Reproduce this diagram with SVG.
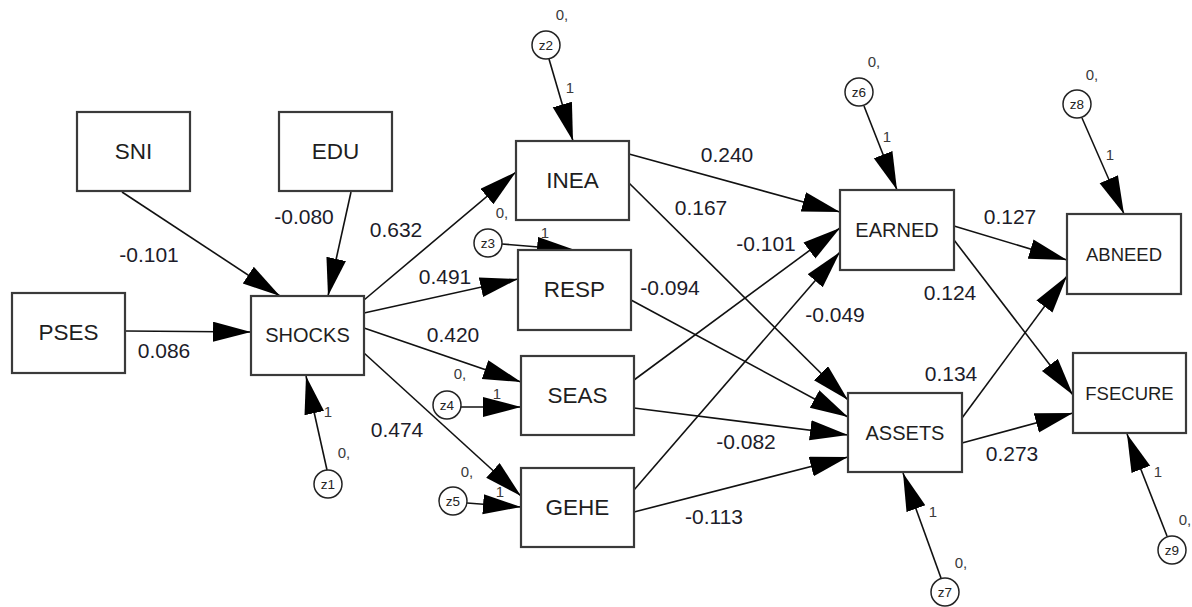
<svg xmlns="http://www.w3.org/2000/svg" width="1192" height="607" viewBox="0 0 1192 607">
<defs>
<marker id="ah" markerUnits="userSpaceOnUse" markerWidth="40" markerHeight="22" refX="38" refY="10" orient="auto" viewBox="0 0 40 22">
<path d="M0,0 L38,10 L0,20 Z" fill="#000"/>
</marker>
<style>
.box{fill:#fff;stroke:#3a3a3a;stroke-width:2.2}
.err{fill:#fff;stroke:#222;stroke-width:1.5}
.lbl{font-family:"Liberation Sans",Arial,sans-serif;fill:#1e1e1e;text-anchor:middle}
.big{font-size:22.5px}
.mid{font-size:20px}
.sm{font-size:18.5px}
.coef{font-family:"Liberation Sans",Arial,sans-serif;font-size:21px;fill:#1c1c2a;text-anchor:middle}
.tiny{font-family:"Liberation Sans",Arial,sans-serif;font-size:15px;fill:#3a3a3a;text-anchor:middle}
.zt{font-family:"Liberation Sans",Arial,sans-serif;font-size:13.5px;fill:#222;text-anchor:middle}
.con line{stroke:#111;stroke-width:1.6;marker-end:url(#ah)}
</style>
</defs>
<rect width="1192" height="607" fill="#fff"/>

<g id="connectors" class="con">
<line x1="122" y1="192" x2="280" y2="296"/>
<line x1="351" y1="192" x2="328" y2="296"/>
<line x1="126" y1="331" x2="251" y2="332"/>
<line x1="327" y1="470" x2="306" y2="376"/>
<line x1="364" y1="300" x2="516" y2="172"/>
<line x1="364" y1="313" x2="518" y2="279"/>
<line x1="364" y1="328" x2="521" y2="382"/>
<line x1="364" y1="353" x2="521" y2="496"/>
<line x1="549" y1="59" x2="573" y2="141"/>
<line x1="502" y1="244" x2="575" y2="250"/>
<line x1="461" y1="407" x2="521" y2="407"/>
<line x1="467" y1="503" x2="521" y2="507"/>
<line x1="629" y1="154" x2="840" y2="212"/>
<line x1="629" y1="183" x2="848" y2="400"/>
<line x1="631" y1="300" x2="848" y2="417"/>
<line x1="634" y1="380" x2="840" y2="228"/>
<line x1="634" y1="408" x2="848" y2="435"/>
<line x1="634" y1="490" x2="840" y2="252"/>
<line x1="634" y1="512" x2="848" y2="457"/>
<line x1="954" y1="226" x2="1067" y2="260"/>
<line x1="954" y1="240" x2="1073" y2="395"/>
<line x1="962" y1="418" x2="1067" y2="276"/>
<line x1="962" y1="443" x2="1073" y2="413"/>
<line x1="864" y1="106" x2="897" y2="190"/>
<line x1="1082" y1="118" x2="1124" y2="214"/>
<line x1="941" y1="578" x2="903" y2="473"/>
<line x1="1167" y1="536" x2="1127" y2="434"/>
</g>

<g id="SNI"><rect class="box" x="77" y="112" width="113" height="79"/><text class="lbl big" x="133.5" y="159">SNI</text></g>
<g id="EDU"><rect class="box" x="279" y="112" width="113" height="79"/><text class="lbl big" x="335.5" y="159">EDU</text></g>
<g id="PSES"><rect class="box" x="12" y="293" width="113" height="80"/><text class="lbl big" x="68.5" y="340">PSES</text></g>
<g id="SHOCKS"><rect class="box" x="251" y="296" width="113" height="79"/><text class="lbl mid" x="307.5" y="342">SHOCKS</text></g>
<g id="INEA"><rect class="box" x="516" y="141" width="113" height="79"/><text class="lbl big" x="572.5" y="188">INEA</text></g>
<g id="RESP"><rect class="box" x="518" y="250" width="113" height="80"/><text class="lbl big" x="574.5" y="297">RESP</text></g>
<g id="SEAS"><rect class="box" x="521" y="356" width="113" height="79"/><text class="lbl big" x="577.5" y="403">SEAS</text></g>
<g id="GEHE"><rect class="box" x="521" y="468" width="113" height="79"/><text class="lbl big" x="577.5" y="515">GEHE</text></g>
<g id="EARNED"><rect class="box" x="840" y="190" width="114" height="80"/><text class="lbl mid" x="897" y="237">EARNED</text></g>
<g id="ABNEED"><rect class="box" x="1067" y="214" width="114" height="80"/><text class="lbl sm" x="1124" y="261">ABNEED</text></g>
<g id="ASSETS"><rect class="box" x="848" y="393" width="114" height="79"/><text class="lbl mid" x="905" y="440">ASSETS</text></g>
<g id="FSECURE"><rect class="box" x="1073" y="353" width="113" height="80"/><text class="lbl sm" x="1129.5" y="400">FSECURE</text></g>

<g id="z1"><circle class="err" cx="328" cy="484" r="14"/><text class="zt" x="328" y="489">z1</text></g>
<g id="z2"><circle class="err" cx="546" cy="45" r="14"/><text class="zt" x="546" y="50">z2</text></g>
<g id="z3"><circle class="err" cx="488" cy="243" r="14"/><text class="zt" x="488" y="248">z3</text></g>
<g id="z4"><circle class="err" cx="447" cy="405" r="14"/><text class="zt" x="447" y="410">z4</text></g>
<g id="z5"><circle class="err" cx="453" cy="501" r="14"/><text class="zt" x="453" y="506">z5</text></g>
<g id="z6"><circle class="err" cx="859" cy="92" r="14"/><text class="zt" x="859" y="97">z6</text></g>
<g id="z7"><circle class="err" cx="945" cy="592" r="14"/><text class="zt" x="945" y="597">z7</text></g>
<g id="z8"><circle class="err" cx="1077" cy="104" r="14"/><text class="zt" x="1077" y="109">z8</text></g>
<g id="z9"><circle class="err" cx="1172" cy="550" r="14"/><text class="zt" x="1172" y="555">z9</text></g>

<g id="coefficients">
<text class="coef" x="149" y="262">-0.101</text>
<text class="coef" x="304" y="224">-0.080</text>
<text class="coef" x="164" y="358">0.086</text>
<text class="coef" x="396" y="237">0.632</text>
<text class="coef" x="445" y="284">0.491</text>
<text class="coef" x="453" y="342">0.420</text>
<text class="coef" x="397" y="437">0.474</text>
<text class="coef" x="727" y="162">0.240</text>
<text class="coef" x="701" y="215">0.167</text>
<text class="coef" x="766" y="251">-0.101</text>
<text class="coef" x="670" y="295">-0.094</text>
<text class="coef" x="835" y="322">-0.049</text>
<text class="coef" x="746" y="449">-0.082</text>
<text class="coef" x="714" y="524">-0.113</text>
<text class="coef" x="1010" y="224">0.127</text>
<text class="coef" x="950" y="300">0.124</text>
<text class="coef" x="951" y="381">0.134</text>
<text class="coef" x="1012" y="461">0.273</text>
</g>

<g id="small-labels">
<text class="tiny" x="328" y="417">1</text><text class="tiny" x="344" y="458">0,</text>
<text class="tiny" x="570" y="93">1</text><text class="tiny" x="562" y="20">0,</text>
<text class="tiny" x="545" y="238">1</text><text class="tiny" x="502" y="218">0,</text>
<text class="tiny" x="497" y="399">1</text><text class="tiny" x="460" y="379">0,</text>
<text class="tiny" x="500" y="497">1</text><text class="tiny" x="467" y="477">0,</text>
<text class="tiny" x="887" y="142">1</text><text class="tiny" x="874" y="67">0,</text>
<text class="tiny" x="933" y="517">1</text><text class="tiny" x="961" y="568">0,</text>
<text class="tiny" x="1110" y="160">1</text><text class="tiny" x="1092" y="80">0,</text>
<text class="tiny" x="1158" y="477">1</text><text class="tiny" x="1185" y="525">0,</text>
</g>
</svg>
